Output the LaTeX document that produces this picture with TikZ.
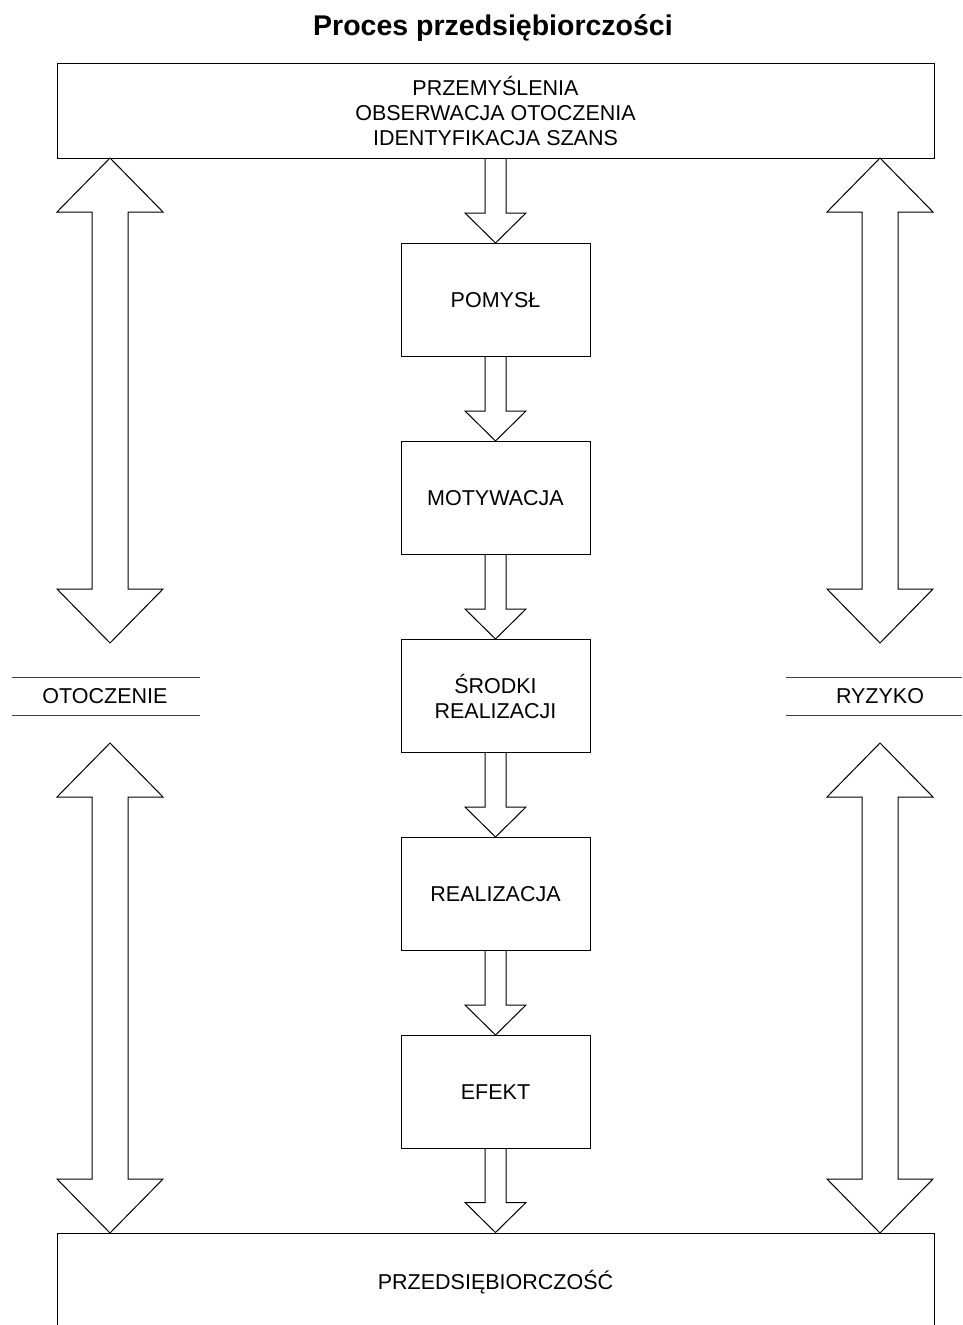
\documentclass[tikz,border=0pt]{standalone}
\usepackage{fontspec}
\setmainfont{Liberation Sans}
\usetikzlibrary{calc}
\tikzset{
  box/.style={draw=black, line width=1pt, fill=white, align=center, font=\fontsize{21.5}{25}\selectfont, inner sep=0pt},
  lbl/.style={align=center, font=\fontsize{21.5}{25}\selectfont},
  shape line/.style={draw=black, line width=1pt, line join=miter},
}
\newcommand{\downarrowblock}[2]{%
  \draw[shape line] let \p1=#1, \p2=#2 in
    (\x1-10.5pt,\y1) -- (\x1-10.5pt,\y2+30pt) -- (\x1-30.5pt,\y2+30pt) -- (\x1,\y2)
    -- (\x1+30.5pt,\y2+30pt) -- (\x1+10.5pt,\y2+30pt) -- (\x1+10.5pt,\y1);}
\newcommand{\dblarrowblock}[2]{%
  \draw[shape line, fill=white] let \p1=#1, \p2=#2 in
    (\x1,\y1) -- (\x1+53pt,\y1-54pt) -- (\x1+18pt,\y1-54pt) -- (\x1+18pt,\y2+54pt)
    -- (\x1+53pt,\y2+54pt) -- (\x1,\y2) -- (\x1-53pt,\y2+54pt) -- (\x1-18pt,\y2+54pt)
    -- (\x1-18pt,\y1-54pt) -- (\x1-53pt,\y1-54pt) -- cycle;}
\begin{document}
\begin{tikzpicture}[x=1pt,y=-1pt]
\useasboundingbox (0,0) rectangle (962,1325);
% title
\node[font=\fontsize{28.5}{32}\selectfont\bfseries] (title) at (493,28) {Proces przedsiębiorczości};
% top and bottom boxes
\node[box, minimum width=877pt, minimum height=95pt] (top) at (495.5,110.5)
  {PRZEMYŚLENIA\\OBSERWACJA OTOCZENIA\\IDENTYFIKACJA SZANS};
\node[box, minimum width=877pt, minimum height=98pt] (bottom) at (495.5,1282) {PRZEDSIĘBIORCZOŚĆ};
% center boxes
\node[box, minimum width=189pt, minimum height=113pt] (pomysl) at (495.5,300) {POMYSŁ};
\node[box, minimum width=189pt, minimum height=113pt] (motyw) at (495.5,498) {MOTYWACJA};
\node[box, minimum width=189pt, minimum height=113pt] (srodki) at (495.5,696) {ŚRODKI\\REALIZACJI};
\node[box, minimum width=189pt, minimum height=113pt] (realiz) at (495.5,894) {REALIZACJA};
\node[box, minimum width=189pt, minimum height=113pt] (efekt) at (495.5,1092) {EFEKT};
% center arrows
\downarrowblock{(top.south)}{(pomysl.north)}
\downarrowblock{(pomysl.south)}{(motyw.north)}
\downarrowblock{(motyw.south)}{(srodki.north)}
\downarrowblock{(srodki.south)}{(realiz.north)}
\downarrowblock{(realiz.south)}{(efekt.north)}
\downarrowblock{(efekt.south)}{(bottom.north)}
% side labels
\node[lbl] (otoc) at (105,696) {OTOCZENIE};
\node[lbl] (ryzyko) at (880,696) {RYZYKO};
\coordinate (otocL) at (12,677); \coordinate (otocR) at (200,677);
\coordinate (otocL2) at (12,715); \coordinate (otocR2) at (200,715);
\coordinate (ryzL) at (786,677); \coordinate (ryzR) at (962,677);
\coordinate (ryzL2) at (786,715); \coordinate (ryzR2) at (962,715);
\draw[line width=1pt, black!75] (otocL) -- (otocR) (otocL2) -- (otocR2);
\draw[line width=1pt, black!75] (ryzL) -- (ryzR) (ryzL2) -- (ryzR2);
% side double arrows
\coordinate (la) at (110,158); \coordinate (lb) at (110,643);
\coordinate (lc) at (110,743); \coordinate (ld) at (110,1233);
\coordinate (ra) at (880,158); \coordinate (rb) at (880,643);
\coordinate (rc) at (880,743); \coordinate (rd) at (880,1233);
\dblarrowblock{(la)}{(lb)}
\dblarrowblock{(lc)}{(ld)}
\dblarrowblock{(ra)}{(rb)}
\dblarrowblock{(rc)}{(rd)}
\end{tikzpicture}
\end{document}
